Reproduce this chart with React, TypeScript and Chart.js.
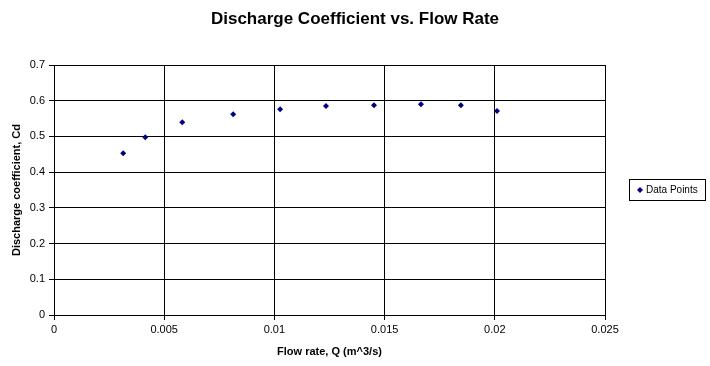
import React, { useEffect, useRef } from "react";
import { Chart, registerables } from "chart.js";

Chart.register(...registerables);

const chartTitle = "Discharge Coefficient vs. Flow Rate";
const xAxisTitle = "Flow rate, Q (m^3/s)";
const yAxisTitle = "Discharge coefficient, Cd";
const seriesName = "Data Points";

const flowRates = [0.00314, 0.00414, 0.00582, 0.00813, 0.01026, 0.01234, 0.01452, 0.01665, 0.01846, 0.0201];
const dischargeCoeffs = [0.453, 0.498, 0.54, 0.562, 0.576, 0.585, 0.587, 0.59, 0.587, 0.571];

const xMin = 0;
const xMax = 0.025;
const xStep = 0.005;
const yMin = 0;
const yMax = 0.7;
const yStep = 0.1;

const FONT = "'Liberation Sans', Arial, sans-serif";
const MARK = "#000080";

const textPlugin = {
  id: "excelText",
  afterDraw(chart: any) {
    const ctx = chart.ctx as CanvasRenderingContext2D;
    const area = chart.chartArea;
    ctx.save();
    ctx.fillStyle = "#000";
    // title
    ctx.font = `bold 17px ${FONT}`;
    ctx.textAlign = "center";
    ctx.textBaseline = "middle";
    ctx.fillText(chartTitle, chart.width / 2, 19);
    // x axis title
    ctx.font = `bold 11px ${FONT}`;
    ctx.fillText(xAxisTitle, (area.left + area.right) / 2, 352);
    // y axis title
    ctx.save();
    ctx.translate(17, (area.top + area.bottom) / 2);
    ctx.rotate(-Math.PI / 2);
    ctx.fillText(yAxisTitle, 0, 0);
    ctx.restore();
    // legend
    const lx = 629.5, ly = 179.5, lw = 76, lh = 21;
    ctx.strokeStyle = "#000";
    ctx.lineWidth = 1;
    ctx.strokeRect(lx, ly, lw, lh);
    const cy = ly + lh / 2;
    ctx.fillStyle = MARK;
    ctx.beginPath();
    ctx.moveTo(640, cy - 3);
    ctx.lineTo(643, cy);
    ctx.lineTo(640, cy + 3);
    ctx.lineTo(637, cy);
    ctx.closePath();
    ctx.fill();
    ctx.fillStyle = "#000";
    ctx.font = `10px ${FONT}`;
    ctx.textAlign = "left";
    ctx.fillText(seriesName, 646, cy + 0.5);
    ctx.restore();
  },
};

function fmt(v: number, digits: number) {
  const n = +v.toFixed(digits);
  return n === 0 ? "0" : String(n);
}

export default function App() {
  const ref = useRef<HTMLCanvasElement | null>(null);
  useEffect(() => {
    if (!ref.current) return;
    const points = flowRates.map((x, i) => ({ x, y: dischargeCoeffs[i] }));
    const chart = new Chart(ref.current, {
      type: "scatter",
      data: {
        datasets: [
          {
            label: seriesName,
            data: points,
            pointStyle: "rectRot",
            pointRadius: 3,
            pointHoverRadius: 3,
            backgroundColor: MARK,
            borderColor: MARK,
            borderWidth: 0,
          },
        ],
      },
      options: {
        responsive: false,
        animation: false,
        layout: { padding: { left: 0, top: 65, right: 105, bottom: 0 } },
        plugins: {
          legend: { display: false },
          title: { display: false },
          tooltip: { enabled: false },
        },
        scales: {
          x: {
            type: "linear",
            min: xMin,
            max: xMax,
            afterFit(scale: any) {
              scale.height = 51;
            },
            ticks: {
              stepSize: xStep,
              color: "#000",
              font: { family: FONT, size: 11 },
              padding: 3,
              maxRotation: 0,
              callback: (v: any) => fmt(Number(v), 3),
            },
            grid: { color: "#000", lineWidth: 1, tickLength: 5, drawTicks: true },
            border: { display: true, color: "#000", width: 1 },
          },
          y: {
            type: "linear",
            min: yMin,
            max: yMax,
            afterFit(scale: any) {
              scale.width = 54;
            },
            ticks: {
              stepSize: yStep,
              color: "#000",
              font: { family: FONT, size: 11 },
              padding: 4,
              callback: (v: any) => fmt(Number(v), 1),
            },
            grid: { color: "#000", lineWidth: 1, tickLength: 5, drawTicks: true },
            border: { display: true, color: "#000", width: 1 },
          },
        },
      },
      plugins: [textPlugin],
    });
    return () => chart.destroy();
  }, []);
  return (
    <div style={{ position: "fixed", left: 0, top: 0, width: 710, height: 366, background: "#fff" }}>
      <canvas ref={ref} width={710} height={366} style={{ display: "block" }} />
    </div>
  );
}
